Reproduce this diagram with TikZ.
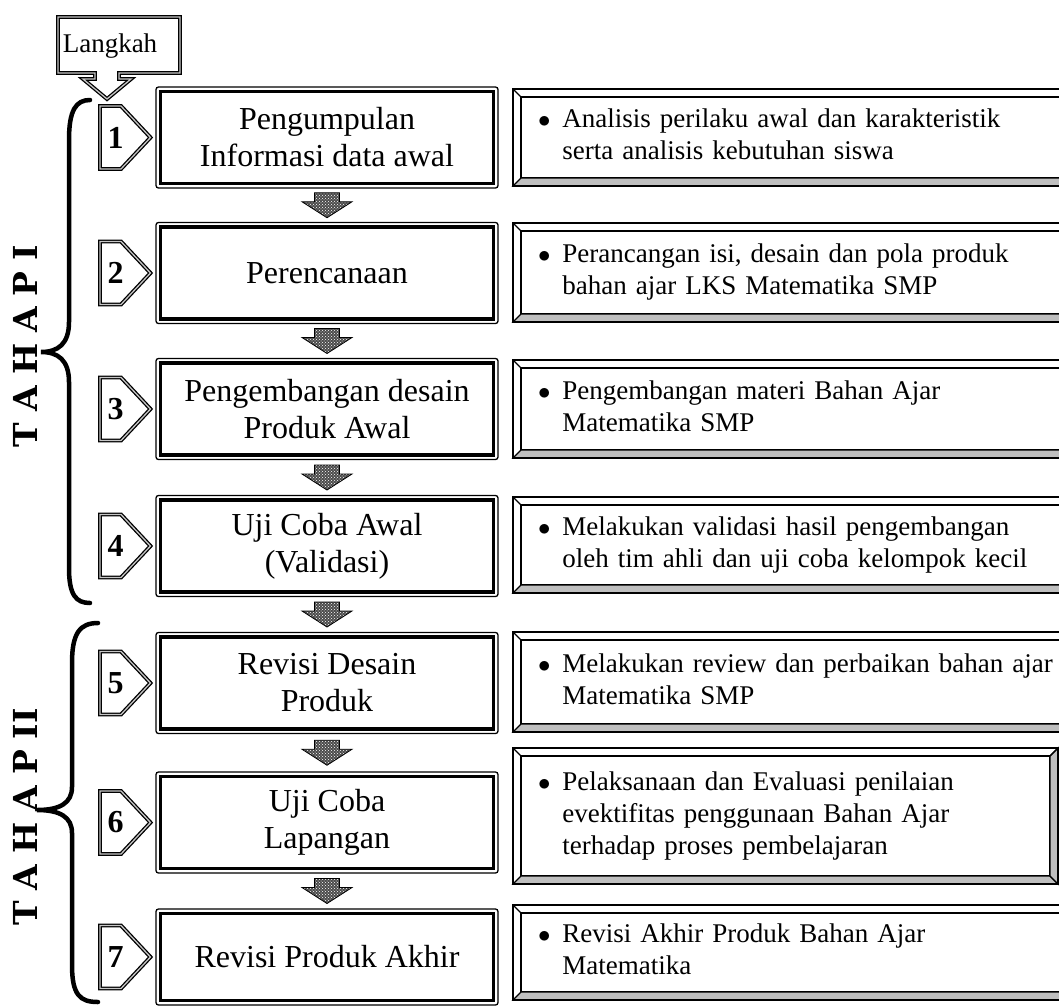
\documentclass[tikz,border=0pt]{standalone}
\usepackage{fontspec}
\setmainfont{Liberation Serif}
\newfontfamily\tahapfont{DejaVu Serif}
\usetikzlibrary{calc,patterns}

\begin{document}
\begin{tikzpicture}[x=1pt,y=-1pt]

\tikzstyle{mid} = [draw, line width=3.7pt, outer sep=0pt, minimum width=333pt, minimum height=92pt, align=center, font=\fontsize{32}{37}\selectfont]
\tikzstyle{lkt} = [inner sep=0pt, text width=110pt, align=center, font=\fontsize{27}{32}\selectfont]
\tikzstyle{num} = [inner sep=0pt, align=center, font=\fontsize{32}{32}\selectfont\bfseries]
\tikzstyle{numframe} = [draw, line width=1.3pt, double=gray!45, double distance=1.3pt]
\tikzstyle{desc} = [draw, line width=1.2pt, outer sep=0pt, anchor=north west, inner xsep=17pt, inner ysep=2pt, text width=512pt, minimum width=546pt, align=left, font=\fontsize{27}{32}\selectfont]
\tikzstyle{bevel} = [draw, line width=1.2pt, fill=black!25]
\tikzstyle{downarr} = [draw, line width=0.8pt, preaction={fill=black!70}, pattern=crosshatch dots, pattern color=white]
\tikzstyle{tahap} = [rotate=90, text width=300pt, align=center, font=\tahapfont\fontsize{33}{33}\selectfont\bfseries]
\tikzstyle{kurung} = [line width=4.5pt, line cap=round]

\useasboundingbox (0,0) rectangle (1059,1007);
\clip (0,0) rectangle (1059,1007);

% tahap
\node[mid] (s1) at (327,137.5) {Pengumpulan\\Informasi data awal};
\node[mid] (s2) at (327,273) {Perencanaan};
\node[mid] (s3) at (327,409) {Pengembangan desain\\Produk Awal};
\node[mid] (s4) at (327,546) {Uji Coba Awal\\(Validasi)};
\node[mid] (s5) at (327,683) {Revisi Desain\\Produk};
\node[mid] (s6) at (327,822.5) {Uji Coba\\Lapangan};
\node[mid, minimum height=87pt] (s7) at (327,957) {Revisi Produk Akhir};

\foreach \i in {1,...,7}
  \draw[line width=1.3pt, rounded corners=2.5pt] ([xshift=-4.5pt,yshift=4.5pt]s\i.north west) rectangle ([xshift=4.5pt,yshift=-4.5pt]s\i.south east);

% langkah
\node[lkt] (lk) at (110,46) {Langkah};
\draw[numframe] (58,17) -- (180,17) -- (180,73) -- (119,73) -- (119,79) -- (131,79) -- (107,99) -- (83,79) -- (95,79) -- (95,73) -- (58,73) -- cycle;

% nomor
\node[num] (n1) at (115.5,137.5) {1};
\node[num] (n2) at (115.5,273) {2};
\node[num] (n3) at (115.5,409) {3};
\node[num] (n4) at (115.5,546) {4};
\node[num] (n5) at (115.5,683) {5};
\node[num] (n6) at (115.5,822.5) {6};
\node[num] (n7) at (115.5,957) {7};

\foreach \i in {1,...,7}
  \draw[numframe, shift={(n\i.center)}] (-15.5,-31.5) -- (5.5,-31.5) -- (35,0) -- (5.5,31.5) -- (-15.5,31.5) -- cycle;

% panah
\foreach \a/\b in {1/2,2/3,3/4,4/5,5/6,6/7}{
  \coordinate (d\a) at ($(s\a.south)!0.5!(s\b.north)$);
  \draw[downarr, shift={(d\a)}] (-12.5,-12.5) -- (12.5,-12.5) -- (12.5,-3.5) -- (25,-3.5) -- (0,12.5) -- (-25,-3.5) -- (-12.5,-3.5) -- cycle;
}

% keterangan
\node[desc, minimum height=81pt] (r1) at (521,97) {\begin{tabular}{@{}l@{\hspace{12pt}}l@{}}$\bullet$ & Analisis perilaku awal dan karakteristik\\ & serta analisis kebutuhan siswa\end{tabular}};
\node[desc, minimum height=83pt] (r2) at (521,231) {\begin{tabular}{@{}l@{\hspace{12pt}}l@{}}$\bullet$ & Perancangan isi, desain dan pola produk\\ & bahan ajar LKS Matematika SMP\end{tabular}};
\node[desc, minimum height=82pt] (r3) at (521,368) {\begin{tabular}{@{}l@{\hspace{12pt}}l@{}}$\bullet$ & Pengembangan materi Bahan Ajar\\ & Matematika SMP\end{tabular}};
\node[desc, minimum height=80pt] (r4) at (521,505) {\begin{tabular}{@{}l@{\hspace{12pt}}l@{}}$\bullet$ & Melakukan validasi hasil pengembangan\\ & oleh tim ahli dan uji coba kelompok kecil\end{tabular}};
\node[desc, minimum height=84pt] (r5) at (521,640) {\begin{tabular}{@{}l@{\hspace{12pt}}l@{}}$\bullet$ & Melakukan review dan perbaikan bahan ajar\\ & Matematika SMP\end{tabular}};
\node[desc, minimum height=120pt, text width=495pt, minimum width=529pt] (r6) at (521,756) {\begin{tabular}{@{}l@{\hspace{12pt}}l@{}}$\bullet$ & Pelaksanaan dan Evaluasi penilaian\\ & evektifitas penggunaan Bahan Ajar\\ & terhadap proses pembelajaran\end{tabular}};
\node[desc, minimum height=79pt] (r7) at (521,913) {\begin{tabular}{@{}l@{\hspace{12pt}}l@{}}$\bullet$ & Revisi Akhir Produk Bahan Ajar\\ & Matematika\end{tabular}};

\foreach \i in {1,...,7}{
  \filldraw[bevel] ([xshift=-8pt,yshift=-8pt]r\i.south west) -- ([xshift=8pt,yshift=-8pt]r\i.south east) -- (r\i.south east) -- (r\i.south west) -- cycle;
  \filldraw[bevel] ([xshift=8pt,yshift=8pt]r\i.north east) -- ([xshift=8pt,yshift=-8pt]r\i.south east) -- (r\i.south east) -- (r\i.north east) -- cycle;
  \draw[line width=1.2pt] ([xshift=-8pt,yshift=8pt]r\i.north west) rectangle ([xshift=8pt,yshift=-8pt]r\i.south east);
  \draw[line width=1.2pt] ([xshift=-8pt,yshift=8pt]r\i.north west) -- (r\i.north west) ([xshift=8pt,yshift=8pt]r\i.north east) -- (r\i.north east);
}

% kurung
\node[tahap] (t1) at (25,346) {T A H A P I};
\node[tahap] (t2) at (25,817) {T A H A P II};
\draw[kurung] (90,100) .. controls (76,100) and (69,110) .. (69,140) -- (69,322) .. controls (69,344) and (58,352) .. (41,352) .. controls (58,352) and (69,360) .. (69,382) -- (69,568) .. controls (69,595) and (76,603) .. (90,603);
\draw[kurung] (98,623) .. controls (80,623) and (72,633) .. (72,663) -- (72,787) .. controls (72,803) and (60,810) .. (37,810) .. controls (60,810) and (72,817) .. (72,833) -- (72,965) .. controls (72,995) and (80,1002) .. (98,1002);

\end{tikzpicture}
\end{document}
